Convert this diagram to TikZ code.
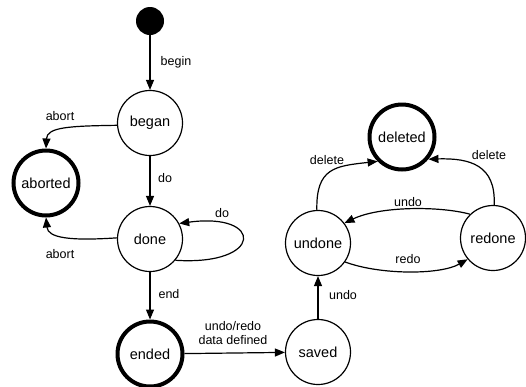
\documentclass[tikz,border=0pt]{standalone}
\usepackage{fontspec}
\setmainfont{Liberation Sans}
\usetikzlibrary{arrows.meta}
\begin{document}
\begin{tikzpicture}[x=1pt,y=-1pt,
  state/.style={circle,draw,line width=1.2pt,minimum size=65pt,inner sep=0pt,font=\fontsize{14.5}{16}\selectfont},
  final/.style={state,line width=4pt},
  lbl/.style={font=\fontsize{12.5}{14}\selectfont,inner sep=0pt},
  tr/.style={-{Triangle[length=10pt,width=8pt]},line width=1.2pt}]
\useasboundingbox (0,0) rectangle (526,386);
\node[circle,fill=black,minimum size=28pt,inner sep=0pt] (init) at (150,21) {};
\node[state] (began) at (150,123) {began};
\node[final] (aborted) at (46,183) {aborted};
\node[state] (done) at (150,239) {done};
\node[final] (ended) at (150,354) {ended};
\node[state] (saved) at (318,352) {saved};
\node[state] (undone) at (318,243) {undone};
\node[state] (redone) at (493,238) {redone};
\node[final] (deleted) at (402,137) {deleted};

\draw[tr] (init) -- (began);
\draw[tr] (began.184) .. controls (70,126) and (47,127) .. (aborted.north);
\draw[tr] (began) -- (done);
\draw[tr] (done.178) .. controls (70,241) and (48,238) .. (aborted.south);
\draw[tr] (done.-40) .. controls (264,266) and (264,212) .. (done.28);
\draw[tr] (done) -- (ended);
\draw[tr] (ended) -- (saved);
\draw[tr] (saved) -- (undone);
\draw[tr] (undone.92) .. controls (316,168) and (335,166) .. (deleted.225);
\draw[tr] (redone.88) .. controls (496,165) and (470,158) .. (deleted.-40);
\draw[tr] (redone.134) .. controls (440,206) and (380,206) .. (undone.37);
\draw[tr] (undone.-35) .. controls (380,275) and (440,275) .. (redone.-140);

\node[lbl] (lbegin) at (176,62) {begin};
\node[lbl] (labort1) at (60,116) {abort};
\node[lbl] (ldo1) at (165,178) {do};
\node[lbl] (ldo2) at (222,213) {do};
\node[lbl] (labort2) at (60,254) {abort};
\node[lbl] (lend) at (169,294) {end};
\node[lbl,align=center] (ludr) at (233,333) {undo/redo\\data defined};
\node[lbl] (lundo1) at (343,295) {undo};
\node[lbl] (ldel1) at (327,160) {delete};
\node[lbl] (ldel2) at (489,155) {delete};
\node[lbl] (lundo2) at (408,202) {undo};
\node[lbl] (lredo) at (408,259) {redo};
\end{tikzpicture}
\end{document}
